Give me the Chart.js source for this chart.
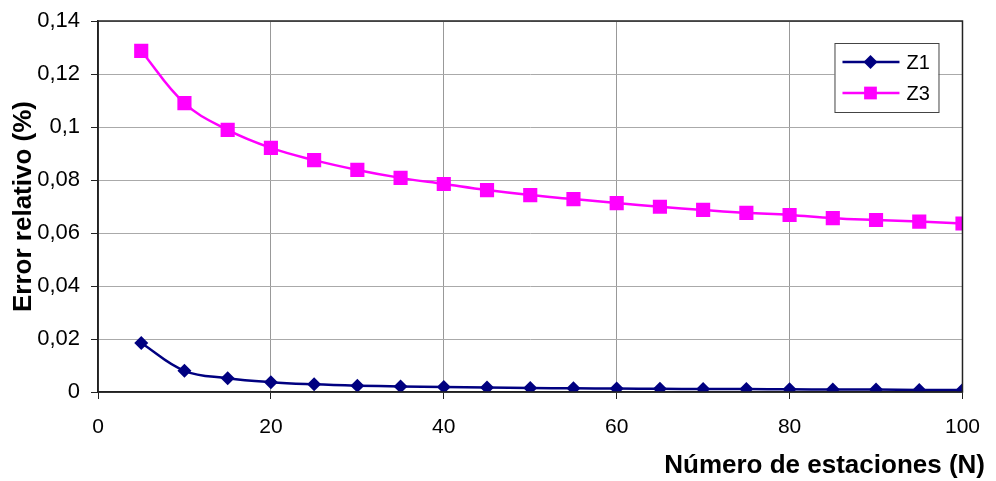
<!DOCTYPE html>
<html>
<head>
<meta charset="utf-8">
<script src="https://cdn.jsdelivr.net/npm/chart.js@4/dist/chart.umd.min.js"></script>
<style>
  html, body { margin: 0; padding: 0; background: #fff; }
  #wrap { width: 996px; height: 481px; }
</style>
</head>
<body>
<div id="wrap"><canvas id="errorChart"></canvas></div>
<script>
// data
const estaciones = [5, 10, 15, 20, 25, 30, 35, 40, 45, 50, 55, 60, 65, 70, 75, 80, 85, 90, 95, 100];
const errorZ1 = [0.0185, 0.0080, 0.0052, 0.0037, 0.0029, 0.0024, 0.0021, 0.0019, 0.0017, 0.0015,
                 0.0014, 0.0013, 0.0012, 0.0011, 0.0011, 0.0010, 0.0009, 0.0009, 0.0008, 0.0008];
const errorZ3 = [0.1287, 0.1090, 0.0989, 0.0921, 0.0875, 0.0838, 0.0808, 0.0785, 0.0762, 0.0743,
                 0.0728, 0.0713, 0.0699, 0.0687, 0.0676, 0.0668, 0.0656, 0.0649, 0.0643, 0.0636];
const seriesNames = ['Z1', 'Z3'];
const xTitle = 'Número de estaciones (N)';
const yTitle = 'Error relativo (%)';

const FONT = '"Liberation Sans", Arial, sans-serif';

function toPoints(ys) {
    return estaciones.map((x, i) => ({ x: x, y: ys[i] }));
}

// dark frame round the plot area
const frame = {
    id: 'frame',
    afterDraw(chart) {
        const a = chart.chartArea, ctx = chart.ctx;
        ctx.save();
        ctx.strokeStyle = '#222';
        ctx.lineWidth = 1.5;
        ctx.strokeRect(a.left, a.top, a.right - a.left, a.bottom - a.top);
        ctx.restore();
    }
};

// axis titles placed like the original (x title runs past the plot edge)
const axisTitles = {
    id: 'axisTitles',
    afterDraw(chart) {
        const a = chart.chartArea, ctx = chart.ctx;
        ctx.save();
        ctx.fillStyle = '#000';
        ctx.font = 'bold 26px ' + FONT;
        ctx.textAlign = 'right';
        ctx.textBaseline = 'alphabetic';
        ctx.fillText(xTitle, chart.width - 11, 473);
        ctx.translate(31, (a.top + a.bottom) / 2);
        ctx.rotate(-Math.PI / 2);
        ctx.textAlign = 'center';
        ctx.fillText(yTitle, 0, 0);
        ctx.restore();
    }
};

// boxed legend inside the plot
const boxLegend = {
    id: 'boxLegend',
    afterDraw(chart) {
        const a = chart.chartArea, ctx = chart.ctx;
        const x0 = a.right - 128, y0 = a.top + 22, w = 104, h = 69;
        ctx.save();
        ctx.fillStyle = '#fff';
        ctx.fillRect(x0, y0, w, h);
        ctx.strokeStyle = '#444';
        ctx.lineWidth = 1;
        ctx.strokeRect(x0 + 0.5, y0 + 0.5, w, h);
        chart.data.datasets.forEach((ds, i) => {
            const y = y0 + 19 + i * 31;
            ctx.strokeStyle = ds.borderColor;
            ctx.lineWidth = 2.5;
            ctx.beginPath();
            ctx.moveTo(x0 + 8, y);
            ctx.lineTo(x0 + 65, y);
            ctx.stroke();
            ctx.fillStyle = ds.pointBackgroundColor;
            Chart.helpers.drawPoint(ctx, {
                pointStyle: ds.pointStyle,
                radius: ds.pointStyle === 'rect' ? 9 : 7,
                borderWidth: 0,
                rotation: 0
            }, x0 + 36, y);
            ctx.fillStyle = '#000';
            ctx.font = '20px ' + FONT;
            ctx.textBaseline = 'middle';
            ctx.fillText(ds.label, x0 + 72, y + 1);
        });
        ctx.restore();
    }
};

const fmt = v => Number(v.toFixed(2)).toString().replace('.', ',');

new Chart(document.getElementById('errorChart'), {
    type: 'line',
    data: {
        datasets: [{
            label: seriesNames[0],
            data: toPoints(errorZ1),
            borderColor: '#000080',
            backgroundColor: '#000080',
            pointBackgroundColor: '#000080',
            pointBorderColor: '#000080',
            pointStyle: 'rectRot',
            pointRadius: 7,
            pointBorderWidth: 0,
            borderWidth: 2.5,
            tension: 0.4,
            fill: false
        }, {
            label: seriesNames[1],
            data: toPoints(errorZ3),
            borderColor: '#ff00ff',
            backgroundColor: '#ff00ff',
            pointBackgroundColor: '#ff00ff',
            pointBorderColor: '#ff00ff',
            pointStyle: 'rect',
            pointRadius: 10,
            pointBorderWidth: 0,
            borderWidth: 2.5,
            tension: 0.4,
            fill: false
        }]
    },
    options: {
        responsive: true,
        maintainAspectRatio: false,
        animation: false,
        layout: { padding: { top: 21, right: 33, left: 8, bottom: 9 } },
        plugins: {
            legend: { display: false },
            tooltip: { enabled: false }
        },
        scales: {
            x: {
                type: 'linear',
                min: 0,
                max: 100,
                ticks: { stepSize: 20, color: '#000', font: { family: FONT, size: 21 }, padding: 16 },
                grid: { color: '#999', tickColor: '#222', tickLength: 7 },
                border: { color: '#222', width: 1.5 },
                afterFit: s => { s.height = 80; }
            },
            y: {
                min: 0,
                max: 0.14,
                ticks: { stepSize: 0.02, color: '#000', font: { family: FONT, size: 22 }, padding: 11, callback: fmt },
                grid: { color: '#aaa', tickColor: '#222', tickLength: 7 },
                border: { color: '#222', width: 1.5 },
                afterFit: s => { s.width = 90; s.paddingTop = 0; s.paddingBottom = 0; }
            }
        }
    },
    plugins: [frame, axisTitles, boxLegend]
});
</script>
</body>
</html>
